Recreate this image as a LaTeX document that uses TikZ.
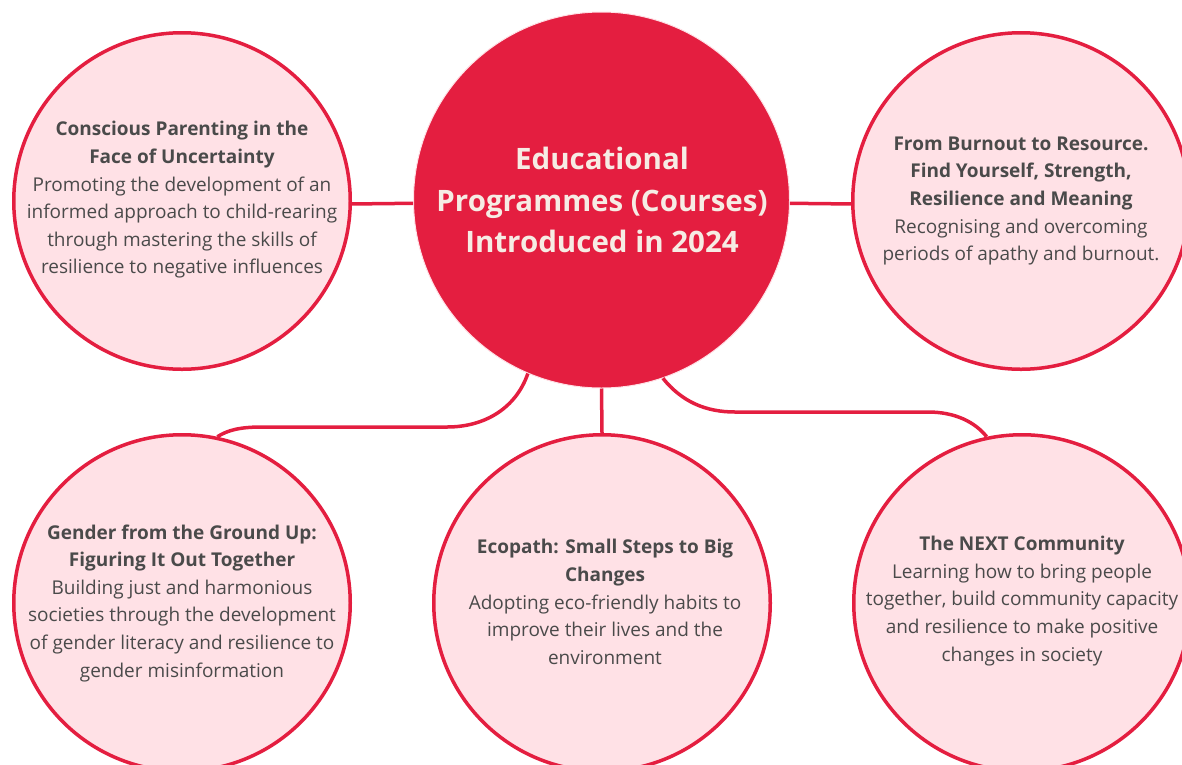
\documentclass[tikz,border=0pt]{standalone}
\usepackage{fontspec}
\setmainfont{Open Sans}
\definecolor{cred}{HTML}{E41E40}
\definecolor{cpink}{HTML}{FFE1E6}
\definecolor{ctext}{HTML}{4A4A4A}
\definecolor{ccream}{HTML}{F6ECE4}
\begin{document}
\begin{tikzpicture}[x=1pt,y=-1pt,
  topic/.style={circle,draw=cred,line width=3.5pt,fill=cpink,minimum size=336.5pt,inner sep=0pt},
  hub/.style={circle,draw=cpink,line width=1pt,fill=cred,minimum size=376pt,inner sep=0pt},
  link/.style={draw=cred,line width=3.5pt},
  body/.style={align=center,text=ctext,font=\fontsize{19}{27.6}\selectfont,inner sep=0pt},
  hubtext/.style={align=center,text=ccream,font=\bfseries\fontsize{29.5}{41.5}\selectfont,inner sep=0pt}]
\useasboundingbox (0,0) rectangle (1182,764);

\node[hub] (c) at (601.5,200) {};
\node[topic] (tl) at (182,201) {};
\node[topic] (tr) at (1021,201) {};
\node[topic] (bl) at (182,603) {};
\node[topic] (bm) at (602,603) {};
\node[topic] (br) at (1022,603) {};

% connectors
\draw[link] (tl.-1) -- (c.181);
\draw[link] (c.-1) -- (tr.181);
\draw[link] (c.south) -- (bm.north);
\draw[link] (c.247.5) .. controls (516,408) and (485,427) .. (447,427) -- (262,427) .. controls (240,427) and (228,430) .. (bl.78);
\draw[link] (c.-71) .. controls (682,402) and (706,412) .. (735,412) -- (928,412) .. controls (955,412) and (975,422) .. (br.102);

% texts
\node[hubtext] (ct) at (602,200) {Educational\\Programmes (Courses)\\Introduced in 2024};

\node[body] (tlt) at (182,200) {\textbf{Conscious Parenting in the}\\\textbf{Face of Uncertainty}\\Promoting the development of an\\informed approach to child-rearing\\through mastering the skills of\\resilience to negative influences};

\node[body] (trt) at (1021,201) {\textbf{From Burnout to Resource.}\\\textbf{Find Yourself, Strength,}\\\textbf{Resilience and Meaning}\\Recognising and overcoming\\periods of apathy and burnout.};

\node[body] (blt) at (182,603) {\textbf{Gender from the Ground Up:}\\\textbf{Figuring It Out Together}\\Building just and harmonious\\societies through the development\\of gender literacy and resilience to\\gender misinformation};

\node[body] (bmt) at (605,602) {\textbf{Ecopath: Small Steps to Big}\\\textbf{Changes}\\Adopting eco-friendly habits to\\improve their lives and the\\environment};

\node[body] (brt) at (1022,601) {\textbf{The NEXT Community}\\Learning how to bring people\\together, build community capacity\\and resilience to make positive\\changes in society};
\end{tikzpicture}
\end{document}
